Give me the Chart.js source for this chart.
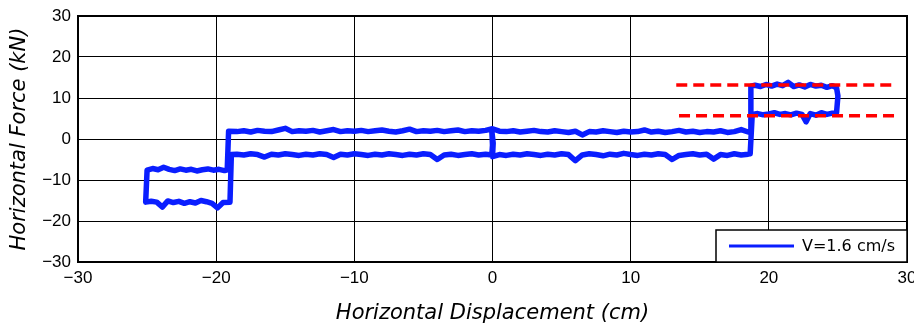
<!DOCTYPE html>
<html>
<head>
<meta charset="utf-8">
<script src="https://cdn.jsdelivr.net/npm/chart.js@4.4.1/dist/chart.umd.min.js"></script>
<style>
  html, body { margin: 0; padding: 0; background: #fff; }
  canvas { display: block; }
</style>
</head>
<body>
<canvas id="loopChart" width="914" height="327"></canvas>
<script>
// loop, in travel order
// left end, upper branch (-25 .. -19)
const leftUpperX = [-25.1, -25.0, -24.6, -24.2, -23.8, -23.4, -23.0, -22.6, -22.2, -21.8, -21.4, -21.0, -20.6, -20.2, -19.8, -19.4, -19.2];
const leftUpperY = [-15.2, -7.6, -7.2, -7.5, -6.9, -7.4, -7.7, -7.3, -7.6, -7.4, -7.8, -7.5, -7.3, -7.6, -7.4, -7.7, -7.5];

// middle, upper branch (-19 .. 18.6)
const midUpperX = [-19.1, -18.5, -18.0, -17.5, -17.0, -16.5, -16.0, -15.5, -15.0, -14.5, -14.0, -13.5, -13.0, -12.5, -12.0, -11.5, -11.0, -10.5, -10.0,
  -9.5, -9.0, -8.5, -8.0, -7.5, -7.0, -6.5, -6.0, -5.5, -5.0, -4.5, -4.0, -3.5, -3.0, -2.5, -2.0, -1.5, -1.0, -0.5, 0.0,
  0.5, 1.0, 1.5, 2.0, 2.5, 3.0, 3.5, 4.0, 4.5, 5.0, 5.5, 6.0, 6.5, 7.0, 7.5, 8.0, 8.5, 9.0, 9.5, 10.0,
  10.5, 11.0, 11.5, 12.0, 12.5, 13.0, 13.5, 14.0, 14.5, 15.0, 15.5, 16.0, 16.5, 17.0, 17.5, 18.0, 18.5, 18.65];
const midUpperY = [1.9, 1.8, 2.0, 1.7, 2.1, 1.9, 1.8, 2.2, 2.6, 1.8, 2.0, 1.9, 2.1, 1.7, 2.0, 2.3, 1.8, 2.0, 1.9,
  2.1, 1.8, 2.0, 2.2, 1.9, 1.7, 2.0, 2.4, 1.8, 2.0, 1.9, 2.1, 1.8, 2.0, 2.2, 1.8, 2.0, 1.9, 2.1, 2.5,
  1.9, 1.8, 2.0, 1.7, 1.9, 2.1, 1.8, 1.7, 2.0, 1.8, 1.6, 1.9, 1.0, 1.8, 1.7, 2.0, 1.8, 1.6, 1.9, 1.7,
  1.8, 2.2, 1.7, 1.9, 1.6, 1.8, 2.1, 1.7, 1.9, 1.6, 1.8, 1.7, 2.0, 1.6, 1.8, 2.3, 1.7, 1.8];

// right end, upper branch (18.7 .. 25)
const rightUpperX = [18.7, 19.0, 19.4, 19.8, 20.2, 20.6, 21.0, 21.4, 21.8, 22.2, 22.6, 23.0, 23.4, 23.8, 24.2, 24.6, 24.9, 25.0];
const rightUpperY = [12.9, 13.1, 12.8, 13.3, 12.9, 13.4, 13.0, 13.8, 12.8, 13.2, 12.7, 13.3, 12.9, 13.1, 12.6, 13.0, 12.5, 10.5];

// right end, lower branch (25 .. 18.8)
const rightLowerX = [24.9, 24.6, 24.2, 23.8, 23.4, 23.0, 22.7, 22.4, 22.0, 21.6, 21.2, 20.8, 20.4, 20.0, 19.6, 19.2, 18.8];
const rightLowerY = [6.4, 6.3, 6.0, 6.4, 5.8, 6.2, 4.2, 6.0, 6.3, 5.9, 6.2, 6.0, 6.4, 6.1, 5.9, 6.2, 6.0];

// middle, lower branch (18.6 .. -19), with the short jog at zero
const midLowerX = [18.65, 18.5, 18.0, 17.5, 17.0, 16.5, 16.0, 15.5, 15.0, 14.5, 14.0, 13.5, 13.0, 12.5, 12.0, 11.5, 11.0, 10.5, 10.0,
  9.5, 9.0, 8.5, 8.0, 7.5, 7.0, 6.5, 6.0, 5.5, 5.0, 4.5, 4.0, 3.5, 3.0, 2.5, 2.0, 1.5, 1.0, 0.5, 0.0,
  0.05, -0.05, 0.0, -0.05,
  -0.5, -1.0, -1.5, -2.0, -2.5, -3.0, -3.5, -4.0, -4.5, -5.0, -5.5, -6.0, -6.5, -7.0, -7.5, -8.0, -8.5, -9.0, -9.5, -10.0,
  -10.5, -11.0, -11.5, -12.0, -12.5, -13.0, -13.5, -14.0, -14.5, -15.0, -15.5, -16.0, -16.5, -17.0, -17.5, -18.0, -18.5, -18.9];
const midLowerY = [-3.6, -3.7, -3.9, -3.6, -4.0, -3.8, -4.9, -3.7, -3.9, -3.6, -3.8, -4.0, -5.0, -3.8, -3.6, -3.9, -3.7, -4.0, -3.8,
  -3.5, -3.9, -3.7, -4.1, -3.8, -3.6, -3.9, -5.3, -3.8, -3.6, -3.9, -3.7, -4.0, -3.8, -3.6, -3.9, -3.7, -4.0, -3.8, -4.3,
  -1.0, 2.0, -1.5, -3.9,
  -3.7, -3.9, -3.6, -3.8, -4.0, -3.7, -3.9, -5.0, -3.8, -3.6, -3.9, -3.7, -4.0, -3.8, -3.6, -3.9, -3.7, -4.0, -3.8, -3.6,
  -3.9, -3.7, -4.5, -3.8, -3.6, -3.9, -3.7, -4.0, -3.8, -3.6, -3.9, -3.7, -4.4, -3.8, -3.6, -3.9, -3.7, -3.8];

// left end, lower branch (-19 .. -25)
const leftLowerX = [-19.0, -19.5, -19.9, -20.3, -20.7, -21.1, -21.5, -21.9, -22.3, -22.7, -23.1, -23.5, -23.9, -24.3, -24.7, -25.1];
const leftLowerY = [-15.4, -15.5, -16.8, -15.7, -15.3, -15.0, -15.6, -15.3, -15.7, -15.2, -15.5, -15.1, -16.6, -15.4, -15.2, -15.4];

// red dashed reference levels
const refLevels = [13.2, 5.7];
const refStart = [13.3, 13.5];
const refEnd = [29.2, 29.2];

const axisMin = -30;
const axisMax = 30;
const tickStep = 10;
const seriesLabel = "V=1.6 cm/s";
const xTitle = "Horizontal Displacement (cm)";
const yTitle = "Horizontal Force (kN)";

const pieces = [
    [leftUpperX, leftUpperY], [midUpperX, midUpperY], [rightUpperX, rightUpperY],
    [rightLowerX, rightLowerY], [midLowerX, midLowerY], [leftLowerX, leftLowerY]
];
const loopPoints = [];
pieces.forEach(([xs, ys]) => xs.forEach((x, i) => loopPoints.push({ x: x, y: ys[i] })));
loopPoints.push({ x: leftUpperX[0], y: leftUpperY[0] });

const refSets = refLevels.map((lvl, i) => ({
    label: "ref" + i,
    data: [{ x: refStart[i], y: lvl }, { x: refEnd[i], y: lvl }],
    showLine: true,
    borderColor: "#FF0000",
    borderWidth: 3.5,
    borderDash: [11, 6],
    pointRadius: 0
}));

const minusSign = v => String(v).replace("-", "\u2212");
const tickFont = { family: "'Liberation Sans', Arial, sans-serif", size: 17 };
const titleFont = { family: "'DejaVu Sans', sans-serif", size: 21, style: "italic" };

// box round the plot area, a bit heavier than the grid
const frame = {
    id: "frame",
    afterDraw(chart) {
        const { ctx, chartArea: a } = chart;
        ctx.save();
        ctx.strokeStyle = "#000";
        ctx.lineWidth = 2;
        ctx.strokeRect(a.left, a.top, a.right - a.left, a.bottom - a.top);
        ctx.restore();
    }
};

// boxed legend in the lower right corner
const boxLegend = {
    id: "boxLegend",
    afterDraw(chart) {
        const { ctx, chartArea: a } = chart;
        const ds = chart.data.datasets[chart.data.datasets.length - 1];
        const left = a.right - 191, top = a.bottom - 32;
        ctx.save();
        ctx.fillStyle = "#fff";
        ctx.fillRect(left, top, a.right - left, a.bottom - top);
        ctx.strokeStyle = "#000";
        ctx.lineWidth = 1.5;
        ctx.strokeRect(left, top, a.right - left, a.bottom - top);
        ctx.strokeStyle = ds.borderColor;
        ctx.lineWidth = 3;
        ctx.beginPath();
        ctx.moveTo(left + 13, top + 16);
        ctx.lineTo(left + 78, top + 16);
        ctx.stroke();
        ctx.fillStyle = "#000";
        ctx.font = "16px 'DejaVu Sans', sans-serif";
        ctx.textBaseline = "middle";
        ctx.fillText(ds.label, left + 86, top + 17);
        ctx.restore();
    }
};

new Chart(document.getElementById("loopChart").getContext("2d"), {
    type: "scatter",
    data: {
        datasets: [
            ...refSets,
            {
                label: seriesLabel,
                data: loopPoints,
                showLine: true,
                borderColor: "#0A1EFF",
                borderWidth: 5.5,
                borderJoinStyle: "round",
                borderCapStyle: "round",
                pointRadius: 0,
                tension: 0
            }
        ]
    },
    options: {
        responsive: false,
        animation: false,
        devicePixelRatio: 1,
        layout: { padding: { top: 16, right: 7, left: 0, bottom: 0 } },
        plugins: {
            legend: { display: false },
            tooltip: { enabled: false }
        },
        scales: {
            x: {
                type: "linear",
                min: axisMin,
                max: axisMax,
                afterFit(scale) {
                    scale.height = 65;
                    scale.paddingLeft = 0;
                    scale.paddingRight = 0;
                },
                ticks: {
                    stepSize: tickStep,
                    color: "#000",
                    padding: 6,
                    maxRotation: 0,
                    font: tickFont,
                    callback: v => minusSign(v)
                },
                grid: { color: "#000", lineWidth: 1, drawTicks: false },
                border: { color: "#000", width: 2 },
                title: {
                    display: true,
                    text: xTitle,
                    color: "#000",
                    font: titleFont,
                    padding: { top: 0, bottom: 1 }
                }
            },
            y: {
                type: "linear",
                min: axisMin,
                max: axisMax,
                afterFit(scale) {
                    scale.width = 78;
                    scale.paddingTop = 0;
                    scale.paddingBottom = 0;
                },
                ticks: {
                    stepSize: tickStep,
                    color: "#000",
                    padding: 7,
                    font: tickFont,
                    callback: v => minusSign(v)
                },
                grid: { color: "#000", lineWidth: 1, drawTicks: false },
                border: { color: "#000", width: 2 },
                title: {
                    display: true,
                    text: yTitle,
                    color: "#000",
                    font: titleFont,
                    padding: { top: 7, bottom: 0 }
                }
            }
        }
    },
    plugins: [frame, boxLegend]
});
</script>
</body>
</html>
